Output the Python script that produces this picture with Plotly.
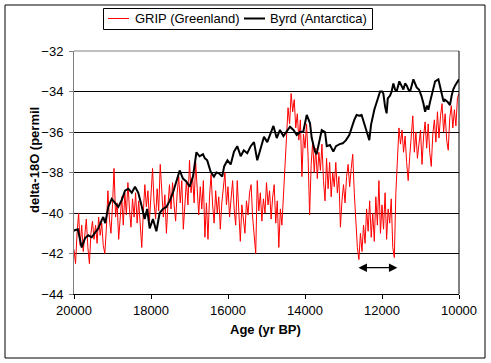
import plotly.graph_objects as go

# ---------------- data ----------------
grip_start_age = 20000
grip_step = 40
grip_values = [
    # 20000 - 19040
    -41.8, -42.5, -41.0, -40.0, -41.6, -40.6, -41.9, -41.2, -40.3, -41.7,
    -42.5, -41.0, -40.4, -41.3, -40.6, -41.5, -40.2, -41.1, -40.5, -41.6,
    -42.0, -40.8, -38.9, -40.3, -41.0,
    # 19000 - 18040
    -39.6, -37.8, -40.2, -39.5, -41.3, -40.0, -39.2, -40.6, -39.0, -40.1,
    -38.5, -39.8, -40.7, -39.3, -40.2, -39.0, -40.5, -39.4, -40.9, -41.7,
    -40.0, -38.6, -39.7, -38.9, -40.4,
    # 18000 - 17040
    -39.2, -37.8, -39.5, -40.3, -38.8, -39.9, -37.6, -39.0, -40.2, -39.1,
    -41.0, -39.6, -38.6, -39.8, -38.5, -39.6, -40.4, -39.0, -38.2, -39.5,
    -38.4, -40.8, -39.3, -38.4, -39.6,
    # 17000 - 16040
    -37.4, -39.0, -38.2, -39.5, -37.5, -38.8, -40.1, -38.7, -39.8, -38.4,
    -41.2, -39.5, -41.3, -39.2, -38.1, -39.6, -40.5, -38.9, -40.0, -39.2,
    -40.8, -39.5, -38.6, -38.0, -39.6,
    # 16000 - 15040
    -38.7, -40.2, -39.1, -38.4, -39.8, -40.6, -38.4, -39.7, -41.4, -39.6,
    -40.3, -41.0, -39.4, -40.1, -39.0, -38.6, -40.2, -41.2, -42.0, -38.4,
    -39.9, -39.0, -40.4, -39.3, -40.0,
    # 15000 - 14040
    -38.5, -39.6, -38.9, -40.3, -39.2, -38.6, -40.5, -39.4, -41.7, -39.8,
    -40.6, -39.0, -38.0, -36.2, -34.8, -35.6, -34.1, -35.0, -34.4, -35.8,
    -35.1, -36.4, -35.4, -38.2, -36.1,
    # 14000 - 13040
    -36.8, -35.6, -37.2, -40.1, -37.6, -36.5, -38.0, -36.8, -38.3, -37.0,
    -37.9, -36.6, -38.4, -39.4, -37.3, -38.8, -37.5, -39.2, -38.0, -38.7,
    -37.5, -39.0, -38.2, -40.7, -39.4,
    # 13000 - 12040
    -38.6, -39.5, -38.2, -37.6, -38.7, -37.8, -37.1, -39.0, -40.4, -41.7,
    -42.3, -41.0, -41.9, -40.6, -41.5, -39.8, -40.9, -39.4, -41.2, -40.0,
    -41.4, -39.2, -40.6, -38.4, -41.0,
    # 12000 - 11040
    -39.6, -40.8, -39.0, -41.3, -39.8, -40.5, -39.3, -41.7, -42.2, -39.0,
    -37.4, -35.8, -36.6, -35.9, -37.0, -36.2, -37.5, -38.4, -37.2, -36.3,
    -35.2, -37.0, -36.0, -37.3, -36.4,
    # 11000 - 10000
    -35.9, -37.6, -36.2, -35.5, -36.8, -35.6, -37.0, -37.7, -36.1, -35.4,
    -36.5, -35.0, -36.3, -35.2, -34.6, -36.0, -35.1, -36.4, -36.9, -35.3,
    -34.7, -35.8, -34.9, -35.7, -34.3, -34.1,
]
grip_ages = [grip_start_age - grip_step * i for i in range(len(grip_values))]

byrd_ages = [
    20000, 19975, 19900, 19850, 19800, 19715, 19630, 19540, 19455, 19370,
    19280, 19240, 19190, 19110, 19020, 18940, 18850, 18760, 18675, 18590,
    18500, 18415, 18330, 18250, 18165, 18100, 18035, 17950, 17860, 17775,
    17690, 17600, 17515, 17430, 17340, 17255, 17170, 17080, 16995, 16910,
    16820, 16740, 16650, 16600, 16540, 16450, 16365, 16300, 16235, 16150,
    16100, 16015, 15930, 15845, 15760, 15670, 15590, 15500, 15410, 15325,
    15240, 15150, 15065, 14980, 14910, 14820, 14735, 14650, 14560, 14475,
    14390, 14300, 14215, 14130, 14045, 13955, 13870, 13825, 13740, 13700,
    13655, 13565, 13480, 13435, 13350, 13265, 13195, 13100, 13020, 12935,
    12850, 12760, 12720, 12660, 12590, 12530, 12460, 12370, 12330, 12285,
    12200, 12115, 12050, 12000, 11965, 11920, 11880, 11850, 11790, 11750,
    11705, 11660, 11620, 11550, 11500, 11445, 11400, 11360, 11315, 11270,
    11185, 11140, 11100, 11040, 10980, 10925, 10880, 10835, 10795, 10750,
    10710, 10660, 10620, 10535, 10490, 10450, 10400, 10365, 10300, 10235,
    10190, 10150, 10100, 10060, 10000,
]
byrd_values = [
    -40.9, -40.84, -40.8, -41.2, -41.7, -41.25, -41.1, -41.2, -41.0, -40.76,
    -40.35, -40.2, -40.5, -39.7, -39.3, -39.5, -39.7, -39.36, -38.9, -38.8,
    -39.0, -38.7, -39.0, -39.6, -40.3, -39.8, -40.76, -40.3, -40.9, -40.0,
    -39.8, -39.7, -39.4, -39.0, -38.4, -37.9, -38.3, -38.45, -38.7, -38.2,
    -37.0, -37.2, -37.1, -37.3, -37.4, -37.96, -38.2, -38.0, -38.04, -38.2,
    -37.7, -37.4, -37.6, -36.97, -36.7, -37.2, -36.9, -37.05, -36.7, -36.5,
    -37.4, -36.8, -36.23, -36.5, -36.15, -35.7, -36.3, -35.9, -36.2, -35.98,
    -35.74, -35.9, -36.15, -36.0, -35.98, -35.16, -35.57, -36.3, -36.97, -37.1,
    -36.7, -35.9, -36.0, -36.7, -36.64, -36.97, -36.7, -36.6, -36.56, -36.4,
    -36.15, -35.6, -35.4, -35.16, -35.2, -35.16, -35.65, -36.15, -36.4, -35.65,
    -34.9, -34.4, -34.0, -34.0, -34.1, -34.75, -35.08, -34.34, -34.2, -34.0,
    -33.6, -33.9, -34.0, -33.5, -33.7, -33.9, -33.6, -33.7, -33.9, -34.0,
    -33.4, -33.6, -33.8, -33.9, -34.2, -34.58, -35.0, -34.7, -34.9, -34.5,
    -34.2, -33.8, -33.5, -33.4, -33.7, -34.1, -34.5, -34.4, -34.5, -34.67,
    -34.2, -33.9, -33.7, -33.6, -33.4,
]

series_names = ["GRIP (Greenland)", "Byrd (Antarctica)"]
series_colors = ["#ff0000", "#000000"]

x_ticks = [20000, 18000, 16000, 14000, 12000, 10000]
y_ticks = [-44, -42, -40, -38, -36, -34, -32]

arrow_from_age = 12650
arrow_to_age = 11600
arrow_level = -42.7

FONT = "Arial, Liberation Sans, Helvetica, sans-serif"

# ---------------- figure ----------------
fig = go.Figure()
fig.add_trace(go.Scatter(
    x=grip_ages, y=grip_values, mode="lines", name=series_names[0],
    line=dict(color=series_colors[0], width=1), showlegend=False,
))
fig.add_trace(go.Scatter(
    x=byrd_ages, y=byrd_values, mode="lines", name=series_names[1],
    line=dict(color=series_colors[1], width=2), showlegend=False,
))

W, H = 491, 363
L, R, T, B = 74, 32, 51, 69
pw, ph = W - L - R, H - T - B

def px2paper_x(px):
    return (px - L) / pw

def px2paper_y(py):
    return (H - B - py) / ph

fig.update_layout(
    width=W, height=H,
    margin=dict(l=L, r=R, t=T, b=B, pad=0),
    paper_bgcolor="white", plot_bgcolor="white",
    font=dict(family=FONT, size=13, color="black"),
    showlegend=False,
    xaxis=dict(
        range=[20000, 10000], tickvals=x_ticks,
        ticktext=[str(v) for v in x_ticks],
        showgrid=False, zeroline=False,
        showline=True, linecolor="black", linewidth=1,
        ticks="outside", ticklen=4, tickcolor="black",
        tickfont=dict(family=FONT, size=13, color="black"),
    ),
    yaxis=dict(
        range=[-44, -32], tickvals=y_ticks,
        showgrid=True, gridcolor="black", gridwidth=1,
        zeroline=False,
        showline=True, linecolor="#808080", linewidth=1,
        ticks="outside", ticklen=4, tickcolor="#808080",
        ticklabelstandoff=3,
        tickfont=dict(family=FONT, size=13, color="black"),
    ),
)

# plot-area border (top gray, right black) and outer frame
fig.add_shape(type="line", xref="paper", yref="paper", x0=0, x1=1, y0=1, y1=1,
              line=dict(color="#808080", width=1))
fig.add_shape(type="line", xref="paper", yref="paper", x0=1, x1=1, y0=0, y1=1,
              line=dict(color="black", width=1))
fig.add_shape(type="rect", xref="paper", yref="paper",
              x0=px2paper_x(5), x1=px2paper_x(485),
              y0=px2paper_y(358), y1=px2paper_y(5),
              line=dict(color="black", width=1), layer="below")

# legend box (drawn to match the original's compact legend)
fig.add_shape(type="rect", xref="paper", yref="paper",
              x0=px2paper_x(103.5), x1=px2paper_x(372.5),
              y0=px2paper_y(29.5), y1=px2paper_y(8.5),
              line=dict(color="black", width=1), fillcolor="white")
legend_items = [(108, 129, 133), (244, 265, 268)]
for (lx0, lx1, tx), name, color in zip(legend_items, series_names, series_colors):
    fig.add_shape(type="line", xref="paper", yref="paper",
                  x0=px2paper_x(lx0), x1=px2paper_x(lx1),
                  y0=px2paper_y(18.5), y1=px2paper_y(18.5),
                  line=dict(color=color, width=1 if color != "#000000" else 2))
    fig.add_annotation(text=name, xref="paper", yref="paper",
                       x=px2paper_x(tx), y=px2paper_y(18.5),
                       xanchor="left", yanchor="middle", showarrow=False,
                       font=dict(family=FONT, size=13, color="black"))

# axis titles
fig.add_annotation(text="<b>delta-18O (permil</b>", xref="paper", yref="paper",
                   x=px2paper_x(34), y=px2paper_y(160), textangle=-90,
                   showarrow=False, font=dict(family=FONT, size=13, color="black"),
                   xanchor="center", yanchor="middle")
fig.add_annotation(text="<b>Age (yr BP)</b>", xref="paper", yref="paper",
                   x=px2paper_x(265), y=px2paper_y(329),
                   showarrow=False, font=dict(family=FONT, size=13, color="black"),
                   xanchor="center", yanchor="middle")

# double-headed arrow marking the cold interval
fig.add_annotation(x=arrow_to_age, y=arrow_level, ax=arrow_from_age, ay=arrow_level,
                   xref="x", yref="y", axref="x", ayref="y",
                   showarrow=True, arrowhead=2, startarrowhead=2,
                   arrowside="end+start", arrowsize=1.3, startarrowsize=1.3,
                   arrowwidth=1.3, arrowcolor="black", text="")

fig.write_html(
    "out.html",
    config={"displayModeBar": False},
    post_script="document.body.style.margin='0';document.body.style.overflow='hidden';",
)
